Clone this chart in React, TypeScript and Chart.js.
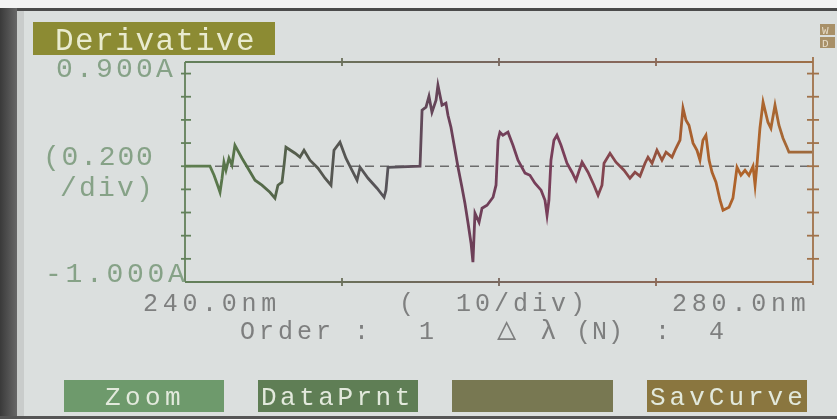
import { useEffect, useRef } from "react";
import { Chart, registerables } from "chart.js";
Chart.register(...registerables);

// Wavelength (nm) and derivative absorbance (A)
const wavelengthsNm = [
  240.0, 241.59, 241.85, 242.1, 242.23, 242.36, 242.48, 242.61, 242.8, 242.99,
  243.18, 243.63, 244.01, 244.46, 244.9, 245.41, 245.73, 245.92, 246.18, 246.31,
  246.43, 247.01, 247.32, 247.58, 247.96, 248.47, 248.92, 249.3, 249.49, 249.87,
  250.25, 250.64, 250.96, 251.15, 251.66, 252.23, 252.68, 252.8, 252.93, 254.97,
  255.1, 255.35, 255.54, 255.73, 255.99, 256.11, 256.37, 256.62, 256.75, 256.94,
  257.2, 257.39, 257.64, 257.83, 258.03, 258.22, 258.34, 258.47, 258.73, 258.92,
  259.24, 259.62, 259.81, 259.94, 260.06, 260.25, 260.57, 260.89, 261.21, 261.66,
  261.97, 262.29, 262.68, 262.93, 263.06, 263.18, 263.31, 263.5, 263.69, 263.95,
  264.33, 264.65, 264.9, 265.29, 265.67, 266.05, 266.31, 266.56, 266.69, 267.07,
  267.45, 267.96, 268.34, 268.66, 268.98, 269.3, 269.49, 269.75, 270.06, 270.38,
  270.64, 271.02, 271.27, 271.53, 271.72, 271.91, 272.1, 272.36, 272.61, 272.8,
  272.99, 273.18, 273.38, 273.57, 273.82, 274.08, 274.27, 274.65, 274.9, 275.16,
  275.41, 275.67, 275.92, 276.18, 276.31, 276.43, 276.62, 276.82, 277.13, 277.32,
  277.58, 277.83, 278.09, 278.34, 278.47, 279.94,
];
const derivativeValues = [
  0.0, 0.0, -0.078, -0.173, -0.225, -0.104, 0.035, -0.035, 0.069, 0.009,
  0.181, 0.069, -0.017, -0.121, -0.164, -0.225, -0.276, -0.164, -0.138, 0.009,
  0.164, 0.112, 0.078, 0.138, 0.052, -0.017, -0.104, -0.164, 0.138, 0.207,
  0.069, -0.035, -0.121, -0.009, -0.104, -0.19, -0.268, -0.207, -0.009, 0.0,
  0.484, 0.51, 0.604, 0.466, 0.57, 0.699, 0.527, 0.544, 0.44, 0.337,
  0.138, -0.009, -0.181, -0.32, -0.492, -0.665, -0.829, -0.406, -0.484, -0.363,
  -0.337, -0.268, -0.164, 0.225, 0.294, 0.268, 0.294, 0.181, 0.052, -0.06,
  -0.078, -0.147, -0.207, -0.294, -0.423, -0.294, 0.052, 0.225, 0.268, 0.181,
  0.026, -0.052, -0.121, 0.035, -0.052, -0.164, -0.25, -0.164, 0.026, 0.112,
  0.035, -0.035, -0.104, -0.052, -0.086, 0.026, 0.078, 0.026, 0.138, 0.052,
  0.121, 0.078, 0.155, 0.225, 0.501, 0.397, 0.354, 0.199, 0.138, 0.052,
  0.225, 0.268, 0.052, -0.052, -0.138, -0.294, -0.38, -0.354, -0.276, -0.009,
  -0.078, -0.035, -0.078, 0.0, -0.164, 0.009, 0.328, 0.553, 0.38, 0.328,
  0.527, 0.354, 0.242, 0.164, 0.121, 0.121,
];
const yTickValues = [0.8, 0.6, 0.4, 0.2, 0, -0.2, -0.4, -0.6, -0.8];
const xTickValues = [250, 260, 270];
const xRange = [240, 280];
const yRange = [-1.0, 0.9];

const titleText = "Derivative";
const yTopLabel = "0.900A";
const yBottomLabel = "-1.000A";
const yScaleLabel = ["(0.200", "/div)"];
const xStartLabel = "240.0nm";
const xEndLabel = "280.0nm";
const xScaleLabel = "(  10/div)";
const orderLabel = "Order :";
const orderValue = "1";
const deltaLabel = ["△", "λ", "(N)"];
const deltaValue = "4";
const buttonLabels = ["Zoom", "DataPrnt", "", "SavCurve"];

const MONO = '"Liberation Mono", "DejaVu Sans Mono", monospace';

function lcd(
  ctx: CanvasRenderingContext2D,
  text: string,
  x: number,
  baseline: number,
  pitch: number,
  size: number,
  color: string
) {
  ctx.save();
  ctx.font = `${size}px ${MONO}`;
  ctx.fillStyle = color;
  ctx.textAlign = "left";
  ctx.textBaseline = "alphabetic";
  [...text].forEach((ch, i) => ctx.fillText(ch, x + i * pitch, baseline));
  ctx.restore();
}

function traceGradient(ctx: CanvasRenderingContext2D, left: number, right: number) {
  const g = ctx.createLinearGradient(left, 0, right, 0);
  g.addColorStop(0, "#5f8050");
  g.addColorStop(0.1, "#557048");
  g.addColorStop(0.2, "#55584f");
  g.addColorStop(0.33, "#57535a");
  g.addColorStop(0.42, "#6a4058");
  g.addColorStop(0.6, "#7a3e5a");
  g.addColorStop(0.72, "#8a4a48");
  g.addColorStop(0.8, "#a8602e");
  g.addColorStop(0.9, "#b0642a");
  g.addColorStop(1, "#9c6a3e");
  return g;
}

function axisGradient(ctx: CanvasRenderingContext2D, left: number, right: number) {
  const g = ctx.createLinearGradient(left, 0, right, 0);
  g.addColorStop(0, "#63805a");
  g.addColorStop(0.35, "#6e6a5a");
  g.addColorStop(0.6, "#806560");
  g.addColorStop(1, "#9e7048");
  return g;
}

const lcdPlugin = {
  id: "lcdScreen",
  beforeDraw(chart: any) {
    const { ctx, width, height } = chart;
    ctx.save();
    ctx.fillStyle = "#dbdfde";
    ctx.fillRect(0, 0, width, height);
    // photo bezel
    ctx.fillStyle = "#f3f3f3";
    ctx.fillRect(0, 0, width, 8);
    ctx.fillStyle = "#4b4b4b";
    ctx.fillRect(0, 8, width, 3);
    const lg = ctx.createLinearGradient(0, 0, 18, 0);
    lg.addColorStop(0, "#3a3a3a");
    lg.addColorStop(1, "#6a6a6a");
    ctx.fillStyle = lg;
    ctx.fillRect(0, 8, 17, height - 8);
    ctx.fillStyle = "#c9cccb";
    ctx.fillRect(17, 11, 7, height - 11);
    ctx.fillStyle = "#555";
    ctx.fillRect(0, height - 3, width, 3);
    ctx.restore();
  },
  beforeDatasetsDraw(chart: any) {
    const { ctx, chartArea: a, scales } = chart;
    const xs = scales.x;
    const ys = scales.y;
    ctx.save();
    // dashed zero line
    const y0 = ys.getPixelForValue(0);
    ctx.strokeStyle = "#6c6c6c";
    ctx.lineWidth = 1.6;
    ctx.setLineDash([9, 6]);
    ctx.beginPath();
    ctx.moveTo(a.left, y0);
    ctx.lineTo(a.right, y0);
    ctx.stroke();
    ctx.setLineDash([]);
    // frame
    const ag = axisGradient(ctx, a.left, a.right);
    ctx.lineWidth = 1.8;
    ctx.strokeStyle = ag;
    ctx.beginPath();
    ctx.moveTo(a.left, a.top);
    ctx.lineTo(a.right, a.top);
    ctx.moveTo(a.left, a.bottom);
    ctx.lineTo(a.right, a.bottom);
    ctx.stroke();
    ctx.strokeStyle = "#62805a";
    ctx.beginPath();
    ctx.moveTo(a.left, a.top);
    ctx.lineTo(a.left, a.bottom);
    ctx.stroke();
    ctx.strokeStyle = "#a0724a";
    ctx.beginPath();
    ctx.moveTo(a.right, a.top - 5);
    ctx.lineTo(a.right, a.bottom + 3);
    ctx.stroke();
    // y ticks
    yTickValues.forEach((v) => {
      const y = ys.getPixelForValue(v);
      ctx.strokeStyle = "#62805a";
      ctx.beginPath();
      ctx.moveTo(a.left - 4, y);
      ctx.lineTo(a.left + 6, y);
      ctx.stroke();
      ctx.strokeStyle = "#a0724a";
      ctx.beginPath();
      ctx.moveTo(a.right - 6, y);
      ctx.lineTo(a.right + 6, y);
      ctx.stroke();
    });
    // x ticks
    ctx.strokeStyle = ag;
    xTickValues.forEach((v) => {
      const x = xs.getPixelForValue(v);
      ctx.beginPath();
      ctx.moveTo(x, a.top - 4);
      ctx.lineTo(x, a.top + 4);
      ctx.moveTo(x, a.bottom - 4);
      ctx.lineTo(x, a.bottom + 4);
      ctx.stroke();
    });
    ctx.restore();
  },
  afterDraw(chart: any) {
    const { ctx } = chart;
    ctx.save();
    // title
    ctx.fillStyle = "#8c8b33";
    ctx.fillRect(33, 22, 242, 33);
    lcd(ctx, titleText, 55, 50, 20.1, 31, "#e9ebcf");
    // top-right indicator
    ctx.fillStyle = "#a89068";
    ctx.fillRect(820, 24, 15, 11);
    ctx.fillRect(820, 37, 15, 11);
    lcd(ctx, "W", 822, 34, 10, 11, "#e6dcc8");
    lcd(ctx, "D", 822, 47, 10, 11, "#e6dcc8");
    // y labels
    const green = "#86a287";
    lcd(ctx, yTopLabel, 56, 77, 20, 28, green);
    lcd(ctx, yScaleLabel[0], 43, 165, 18.6, 28, green);
    lcd(ctx, yScaleLabel[1], 60, 196, 19, 28, green);
    lcd(ctx, yBottomLabel, 45, 282, 20.5, 28, green);
    // x labels
    const gray = "#7e7f7f";
    lcd(ctx, xStartLabel, 143, 311, 19.7, 25, gray);
    lcd(ctx, xScaleLabel, 399, 311, 19, 25, gray);
    lcd(ctx, xEndLabel, 672, 311, 19.8, 25, gray);
    lcd(ctx, orderLabel, 240, 339, 19, 25, gray);
    lcd(ctx, orderValue, 419, 339, 19, 25, gray);
    lcd(ctx, deltaLabel[0], 497, 339, 19, 32, gray);
    lcd(ctx, deltaLabel[1], 540, 339, 19, 28, gray);
    lcd(ctx, deltaLabel[2], 576, 339, 16, 25, gray);
    lcd(ctx, ":", 655, 339, 19, 25, gray);
    lcd(ctx, deltaValue, 709, 339, 19, 25, gray);
    // soft keys
    const keys = [
      { x: 64, w: 160, c: "#6e9a6c", tx: 105, p: 20 },
      { x: 258, w: 160, c: "#5f7e55", tx: 261, p: 19.1 },
      { x: 452, w: 161, c: "#787852", tx: 460, p: 19 },
      { x: 647, w: 160, c: "#8a763f", tx: 650, p: 19.6 },
    ];
    keys.forEach((k, i) => {
      ctx.fillStyle = k.c;
      ctx.fillRect(k.x, 380, k.w, 32);
      lcd(ctx, buttonLabels[i], k.tx, 405, k.p, 26, "#e2e9dc");
    });
    ctx.restore();
  },
};

export default function App() {
  const ref = useRef<HTMLCanvasElement | null>(null);
  useEffect(() => {
    if (!ref.current) return;
    const chart = new Chart(ref.current, {
      type: "line",
      data: {
        datasets: [
          {
            data: wavelengthsNm.map((x, i) => ({ x, y: derivativeValues[i] })),
            borderColor: (c: any) => {
              const a = c.chart.chartArea;
              if (!a) return "#555";
              return traceGradient(c.chart.ctx, a.left, a.right);
            },
            borderWidth: 2.8,
            borderJoinStyle: "miter",
            pointRadius: 0,
            tension: 0,
            fill: false,
          },
        ],
      },
      options: {
        animation: false,
        responsive: false,
        devicePixelRatio: 1,
        layout: { padding: { left: 185, top: 62, right: 24, bottom: 137 } },
        scales: {
          x: { type: "linear", min: xRange[0], max: xRange[1], display: false },
          y: { type: "linear", min: yRange[0], max: yRange[1], display: false },
        },
        plugins: { legend: { display: false }, tooltip: { enabled: false } },
      },
      plugins: [lcdPlugin],
    });
    return () => chart.destroy();
  }, []);
  return (
    <div style={{ position: "fixed", left: 0, top: 0, width: 837, height: 419 }}>
      <canvas ref={ref} width={837} height={419} style={{ display: "block" }} />
    </div>
  );
}
